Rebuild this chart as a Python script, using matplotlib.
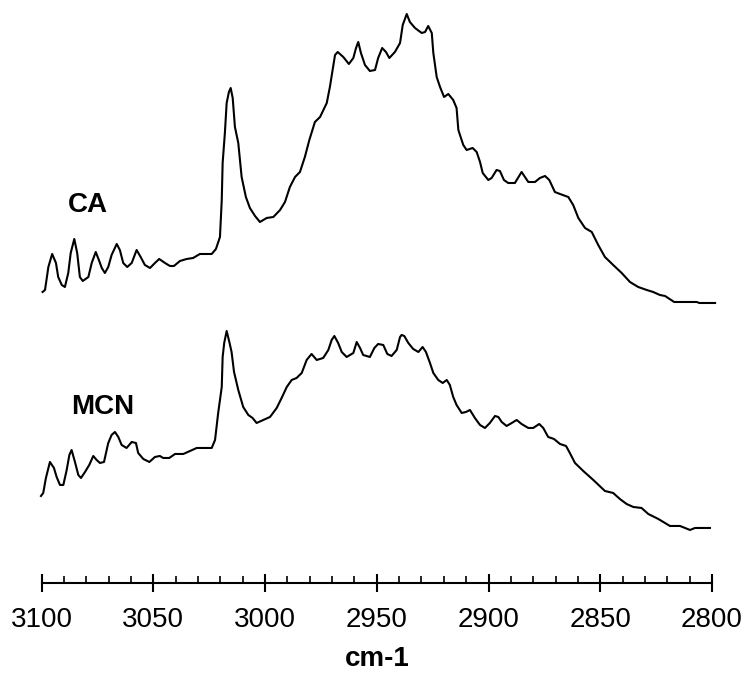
import numpy as np
import matplotlib.pyplot as plt
from matplotlib.ticker import MultipleLocator

plt.rcParams['font.family'] = ['Liberation Sans', 'DejaVu Sans']

# Wavenumbers (cm-1) and intensities, arbitrary units
ca_wn = [3099.6, 3098.5, 3097.0, 3095.3, 3093.6, 3092.6, 3091.0, 3089.6, 3088.1, 3087.0,
         3085.4, 3084.1, 3082.9, 3081.6, 3079.1, 3077.6, 3075.8, 3074.4, 3073.1, 3071.7,
         3070.2, 3068.7, 3066.4, 3065.0, 3063.5, 3061.7, 3059.7, 3057.5, 3055.7, 3053.8,
         3051.5, 3049.3, 3047.4, 3044.8, 3042.6, 3040.8, 3038.1, 3035.1, 3032.2, 3029.2,
         3023.9, 3022.0, 3020.2, 3019.4, 3019.0, 3018.0, 3017.2, 3016.2, 3015.4, 3014.5,
         3013.5, 3012.0, 3010.5, 3008.6, 3006.8, 3004.5, 3002.3, 2999.3, 2996.3, 2993.3,
         2991.1, 2988.9, 2986.6, 2984.4, 2982.2, 2980.2, 2977.7, 2975.4, 2972.4, 2971.0,
         2969.8, 2968.7, 2967.5, 2965.0, 2962.5, 2960.5, 2959.3, 2958.3, 2957.1, 2955.3,
         2953.1, 2950.8, 2949.4, 2947.6, 2945.9, 2944.4, 2941.9, 2939.6, 2938.4, 2936.6,
         2935.2, 2932.9, 2929.9, 2928.4, 2927.0, 2925.4, 2924.7, 2923.2, 2921.7, 2919.9,
         2918.0, 2915.8, 2914.3, 2913.5, 2911.3, 2909.8, 2907.1, 2905.3, 2903.8, 2902.6,
         2900.1, 2898.6, 2896.4, 2894.9, 2893.1, 2891.2, 2888.2, 2885.2, 2882.2, 2879.2,
         2877.0, 2874.7, 2872.8, 2870.3, 2868.0, 2864.3, 2862.1, 2859.8, 2856.8, 2853.8,
         2850.9, 2847.9, 2844.2, 2840.4, 2836.7, 2833.0, 2829.2, 2826.3, 2823.3, 2821.0,
         2816.9, 2806.8, 2805.7, 2798.6]
ca_int = [0.12, 0.14, 0.37, 0.50, 0.41, 0.27, 0.19, 0.17, 0.31, 0.51,
          0.65, 0.51, 0.27, 0.23, 0.27, 0.41, 0.52, 0.44, 0.36, 0.31,
          0.37, 0.49, 0.60, 0.54, 0.41, 0.37, 0.41, 0.54, 0.47, 0.39,
          0.36, 0.41, 0.45, 0.41, 0.38, 0.38, 0.43, 0.45, 0.46, 0.50,
          0.50, 0.55, 0.67, 1.04, 1.41, 1.71, 2.01, 2.12, 2.16, 2.06,
          1.77, 1.61, 1.27, 1.07, 0.96, 0.88, 0.82, 0.86, 0.87, 0.94,
          1.02, 1.17, 1.27, 1.32, 1.47, 1.64, 1.82, 1.87, 2.01, 2.17,
          2.34, 2.49, 2.52, 2.47, 2.40, 2.46, 2.56, 2.62, 2.51, 2.39,
          2.33, 2.34, 2.46, 2.56, 2.52, 2.46, 2.52, 2.61, 2.79, 2.90,
          2.82, 2.76, 2.71, 2.72, 2.78, 2.71, 2.51, 2.27, 2.17, 2.07,
          2.10, 2.04, 1.96, 1.74, 1.59, 1.54, 1.56, 1.52, 1.42, 1.31,
          1.24, 1.26, 1.34, 1.33, 1.24, 1.21, 1.21, 1.32, 1.22, 1.22,
          1.26, 1.28, 1.24, 1.12, 1.10, 1.07, 0.99, 0.86, 0.76, 0.72,
          0.59, 0.47, 0.39, 0.31, 0.22, 0.17, 0.14, 0.12, 0.09, 0.08,
          0.02, 0.02, 0.01, 0.01]

mcn_wn = [3100.3, 3099.3, 3098.1, 3096.3, 3094.5, 3093.3, 3091.8, 3090.3, 3088.8, 3087.6,
          3086.6, 3085.1, 3083.6, 3082.4, 3080.6, 3078.7, 3076.9, 3075.4, 3073.9, 3072.1,
          3070.2, 3068.7, 3067.2, 3065.7, 3064.2, 3062.0, 3059.7, 3057.8, 3056.8, 3054.5,
          3051.8, 3049.3, 3047.1, 3045.6, 3042.9, 3040.3, 3036.6, 3033.6, 3030.6, 3023.9,
          3022.4, 3021.0, 3019.4, 3019.0, 3018.3, 3017.2, 3016.0, 3015.0, 3013.9, 3012.0,
          3009.8, 3007.5, 3005.6, 3003.8, 3000.8, 2997.8, 2994.8, 2992.6, 2990.3, 2988.1,
          2985.9, 2983.6, 2981.4, 2979.2, 2976.9, 2974.0, 2971.7, 2970.2, 2969.0, 2967.3,
          2965.7, 2963.5, 2960.5, 2959.0, 2957.5, 2956.1, 2953.1, 2951.1, 2949.4, 2947.1,
          2945.3, 2943.4, 2941.1, 2939.6, 2938.9, 2937.7, 2935.9, 2933.7, 2931.4, 2929.5,
          2928.0, 2926.2, 2924.7, 2922.5, 2920.5, 2918.7, 2917.3, 2915.8, 2914.3, 2912.0,
          2910.1, 2908.3, 2906.1, 2903.8, 2901.6, 2899.4, 2897.1, 2895.6, 2894.1, 2891.9,
          2889.6, 2887.4, 2885.2, 2882.2, 2880.0, 2877.3, 2875.5, 2873.3, 2870.7, 2868.0,
          2865.3, 2863.6, 2861.3, 2857.6, 2853.1, 2847.9, 2844.2, 2841.2, 2838.2, 2835.2,
          2831.5, 2828.5, 2824.0, 2818.8, 2814.3, 2812.1, 2809.8, 2807.6, 2800.9]
mcn_int = [0.33, 0.36, 0.51, 0.67, 0.61, 0.52, 0.44, 0.44, 0.59, 0.74,
           0.79, 0.67, 0.54, 0.51, 0.57, 0.64, 0.73, 0.69, 0.66, 0.67,
           0.86, 0.94, 0.97, 0.92, 0.84, 0.81, 0.87, 0.86, 0.76, 0.70,
           0.67, 0.72, 0.73, 0.71, 0.71, 0.75, 0.75, 0.78, 0.81, 0.81,
           0.89, 1.16, 1.42, 1.72, 1.86, 1.98, 1.87, 1.77, 1.57, 1.39,
           1.22, 1.14, 1.11, 1.06, 1.09, 1.12, 1.21, 1.31, 1.42, 1.49,
           1.51, 1.56, 1.69, 1.75, 1.69, 1.71, 1.79, 1.89, 1.93, 1.86,
           1.77, 1.72, 1.76, 1.87, 1.81, 1.74, 1.72, 1.81, 1.85, 1.84,
           1.75, 1.73, 1.79, 1.92, 1.94, 1.93, 1.86, 1.80, 1.77, 1.82,
           1.77, 1.66, 1.56, 1.49, 1.46, 1.49, 1.44, 1.32, 1.24, 1.16,
           1.17, 1.19, 1.11, 1.04, 1.01, 1.06, 1.13, 1.12, 1.07, 1.03,
           1.06, 1.09, 1.05, 1.01, 1.01, 1.05, 1.01, 0.92, 0.90, 0.85,
           0.83, 0.76, 0.66, 0.58, 0.49, 0.38, 0.36, 0.30, 0.25, 0.22,
           0.21, 0.15, 0.10, 0.03, 0.03, 0.01, -0.01, 0.01, 0.01]

# vertical offsets used to stack the two spectra
ca_offset = 2.79
mcn_offset = 0.54

fig = plt.figure(figsize=(7.48, 6.84), dpi=100)
ax = fig.add_axes([0.0557, 0.1477, 0.8961, 0.8523])

ax.plot(ca_wn, np.array(ca_int) + ca_offset, color='black', linewidth=1.5,
        solid_joinstyle='round', clip_on=False)
ax.plot(mcn_wn, np.array(mcn_int) + mcn_offset, color='black', linewidth=1.5,
        solid_joinstyle='round', clip_on=False)

ax.text(3088.2, 3.78, 'CA', fontsize=20, fontweight='bold', va='center', ha='left')
ax.text(3087.0, 1.76, 'MCN', fontsize=20, fontweight='bold', va='center', ha='left')

ax.set_xlim(3100, 2800)
ax.set_ylim(0, 5.83)

for s in ['top', 'right', 'left']:
    ax.spines[s].set_visible(False)
ax.spines['bottom'].set_linewidth(1.5)
ax.set_yticks([])

ax.xaxis.set_major_locator(MultipleLocator(50))
ax.xaxis.set_minor_locator(MultipleLocator(10))
ax.tick_params(axis='x', which='major', direction='inout', length=13, width=1.5,
               labelsize=20, pad=11)
ax.tick_params(axis='x', which='minor', direction='in', length=5, width=1.2)

ax.set_xlabel('cm-1', fontsize=20, fontweight='bold', labelpad=9.5)

fig.savefig('out.png', dpi=100)
